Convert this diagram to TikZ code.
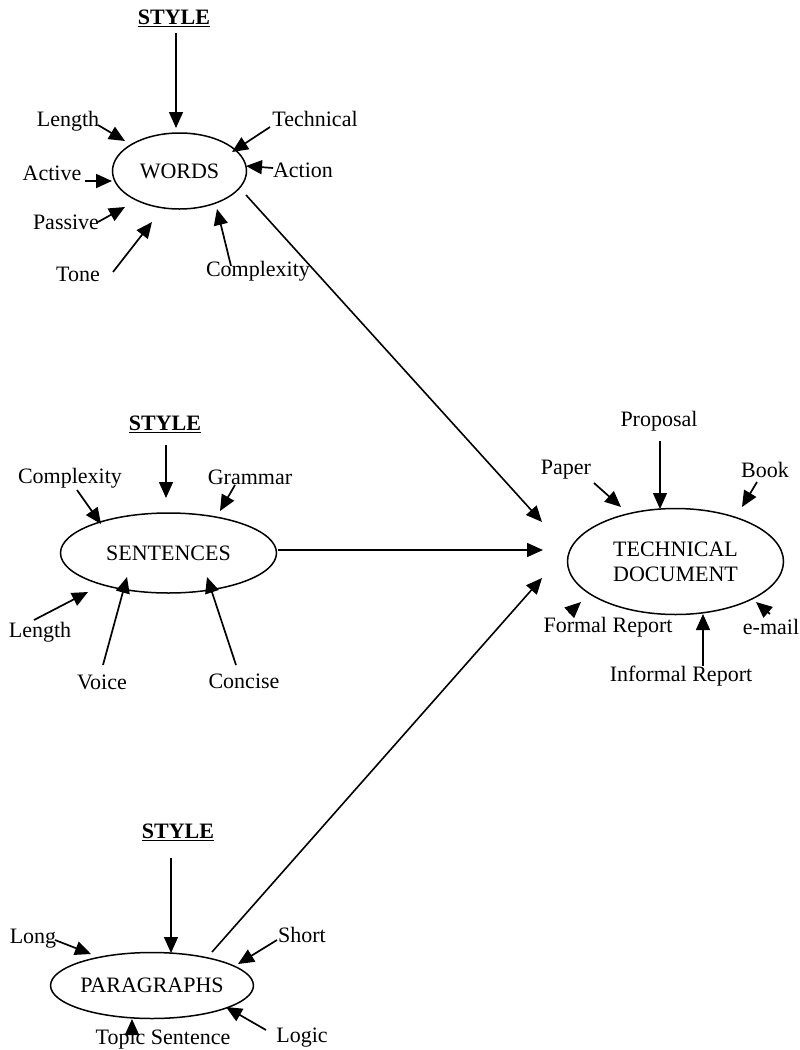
\documentclass[tikz,border=0pt]{standalone}
\usepackage{fontspec}
\setmainfont{Liberation Serif}
\usetikzlibrary{arrows.meta,shapes.geometric}
\begin{document}
\begin{tikzpicture}[x=1pt,y=-1pt,
  lbl/.style={inner sep=0pt,font=\fontsize{22}{25}\selectfont},
  hub/.style={ellipse,draw,line width=1.5pt,inner sep=0pt,font=\fontsize{22}{25}\selectfont,align=center},
  arr/.style={line width=1.7pt,-{Triangle[length=16pt,width=14pt]}},
  link/.style={line width=1.6pt,-{Triangle[length=16pt,width=14pt]}}]
\useasboundingbox[fill=white] (0,0) rectangle (800,1050);

% ---------- WORDS ----------
\node[hub,minimum width=134pt,minimum height=76pt] (words) at (179.5,171) {WORDS};
\node[lbl] (wstyle) at (174,18) {\underline{\textbf{STYLE}}};
\node[lbl] (wlength) at (68,121) {Length};
\node[lbl] (wtech) at (315,119) {Technical};
\node[lbl] (waction) at (303,170) {Action};
\node[lbl] (wactive) at (52,173) {Active};
\node[lbl] (wpassive) at (66,222) {Passive};
\node[lbl] (wtone) at (78,274) {Tone};
\node[lbl] (wcomplex) at (258,271) {Complexity};
\coordinate (wstyleT) at (176,33);   \coordinate (wstyleH) at (176,128);
\coordinate (wlengthT) at (98,125);  \coordinate (wlengthH) at (125,141);
\coordinate (wtechT) at (270,127);   \coordinate (wtechH) at (232,152);
\coordinate (wactionT) at (273,168); \coordinate (wactionH) at (246,166);
\coordinate (wactiveT) at (85,181);  \coordinate (wactiveH) at (112,181);
\coordinate (wpassiveT) at (98,222); \coordinate (wpassiveH) at (125,207);
\coordinate (wtoneT) at (113,272);   \coordinate (wtoneH) at (152,222);
\coordinate (wcomplexT) at (231,266); \coordinate (wcomplexH) at (217,209);
\draw[arr,line width=1.4pt] (wstyleT) -- (wstyleH);
\draw[arr] (wlengthT) -- (wlengthH);
\draw[arr] (wtechT) -- (wtechH);
\draw[arr] (wactionT) -- (wactionH);
\draw[arr] (wactiveT) -- (wactiveH);
\draw[arr] (wpassiveT) -- (wpassiveH);
\draw[arr] (wtoneT) -- (wtoneH);
\draw[arr] (wcomplexT) -- (wcomplexH);

% ---------- SENTENCES ----------
\node[hub,minimum width=216pt,minimum height=80pt] (sent) at (168.5,553) {SENTENCES};
\node[lbl] (sstyle) at (165,424) {\underline{\textbf{STYLE}}};
\node[lbl] (scomplex) at (70,478) {Complexity};
\node[lbl] (sgrammar) at (250,477) {Grammar};
\node[lbl] (slength) at (40,632) {Length};
\node[lbl] (svoice) at (102,682) {Voice};
\node[lbl] (sconcise) at (244,681) {Concise};
\coordinate (sstyleT) at (166,445);   \coordinate (sstyleH) at (166,498);
\coordinate (scomplexT) at (77,490);  \coordinate (scomplexH) at (101,524);
\coordinate (sgrammarT) at (235,485); \coordinate (sgrammarH) at (220,511);
\coordinate (slengthT) at (34,620);   \coordinate (slengthH) at (88,592);
\coordinate (svoiceT) at (103,665);   \coordinate (svoiceH) at (127,577);
\coordinate (sconciseT) at (236,665); \coordinate (sconciseH) at (207,577);
\draw[arr,line width=1.4pt] (sstyleT) -- (sstyleH);
\draw[arr] (scomplexT) -- (scomplexH);
\draw[arr] (sgrammarT) -- (sgrammarH);
\draw[arr] (slengthT) -- (slengthH);
\draw[arr] (svoiceT) -- (svoiceH);
\draw[arr] (sconciseT) -- (sconciseH);

% ---------- TECHNICAL DOCUMENT ----------
\node[hub,minimum width=216pt,minimum height=106pt] (doc) at (675.5,561.5) {TECHNICAL\\DOCUMENT};
\node[lbl] (dproposal) at (659,421) {Proposal};
\node[lbl] (dpaper) at (566,470) {Paper};
\node[lbl] (dbook) at (765,470) {Book};
\node[lbl] (dformal) at (608,627) {Formal Report};
\node[lbl] (demail) at (771,627) {e-mail};
\node[lbl] (dinformal) at (681,676) {Informal Report};
\coordinate (dproposalT) at (660,441); \coordinate (dproposalH) at (660,509);
\coordinate (dpaperT) at (594,483);    \coordinate (dpaperH) at (621,507);
\coordinate (dbookT) at (757,482);     \coordinate (dbookH) at (742,507);
\coordinate (dformalT) at (569,613);   \coordinate (dformalH) at (581,602);
\coordinate (demailT) at (770,614);    \coordinate (demailH) at (756,602);
\coordinate (dinformalT) at (703,666); \coordinate (dinformalH) at (703,614);
\draw[arr,line width=1.4pt] (dproposalT) -- (dproposalH);
\draw[arr] (dpaperT) -- (dpaperH);
\draw[arr] (dbookT) -- (dbookH);
\draw[arr] (dformalT) -- (dformalH);
\draw[arr] (demailT) -- (demailH);
\draw[arr,line width=1.4pt] (dinformalT) -- (dinformalH);

% ---------- PARAGRAPHS ----------
\node[hub,minimum width=200pt,minimum height=66pt] (para) at (152,985.5) {PARAGRAPHS};
\node[lbl] (pstyle) at (178,832) {\underline{\textbf{STYLE}}};
\node[lbl] (plong) at (33,939) {Long};
\node[lbl] (pshort) at (302,935) {Short};
\node[lbl] (plogic) at (302,1038) {Logic};
\node[lbl] (ptopic) at (163,1040) {Topic Sentence};
\coordinate (pstyleT) at (171,858);  \coordinate (pstyleH) at (171,953);
\coordinate (plongT) at (55,940);    \coordinate (plongH) at (91,954);
\coordinate (pshortT) at (277,940);  \coordinate (pshortH) at (238,964);
\coordinate (plogicT) at (266,1030); \coordinate (plogicH) at (226,1007);
\coordinate (ptopicT) at (132,1028); \coordinate (ptopicH) at (132,1019);
\draw[arr,line width=1.4pt] (pstyleT) -- (pstyleH);
\draw[arr] (plongT) -- (plongH);
\draw[arr] (pshortT) -- (pshortH);
\draw[arr] (plogicT) -- (plogicH);
\draw[arr] (ptopicT) -- (ptopicH);

% ---------- links into the document ----------
\coordinate (wordsOut) at (246,195);  \coordinate (docInW) at (542,522);
\coordinate (sentOut) at (278,550);   \coordinate (docInS) at (543,550);
\coordinate (paraOut) at (212,952);   \coordinate (docInP) at (542,578);
\draw[link] (wordsOut) -- (docInW);
\draw[link] (sentOut) -- (docInS);
\draw[link] (paraOut) -- (docInP);
\end{tikzpicture}
\end{document}
